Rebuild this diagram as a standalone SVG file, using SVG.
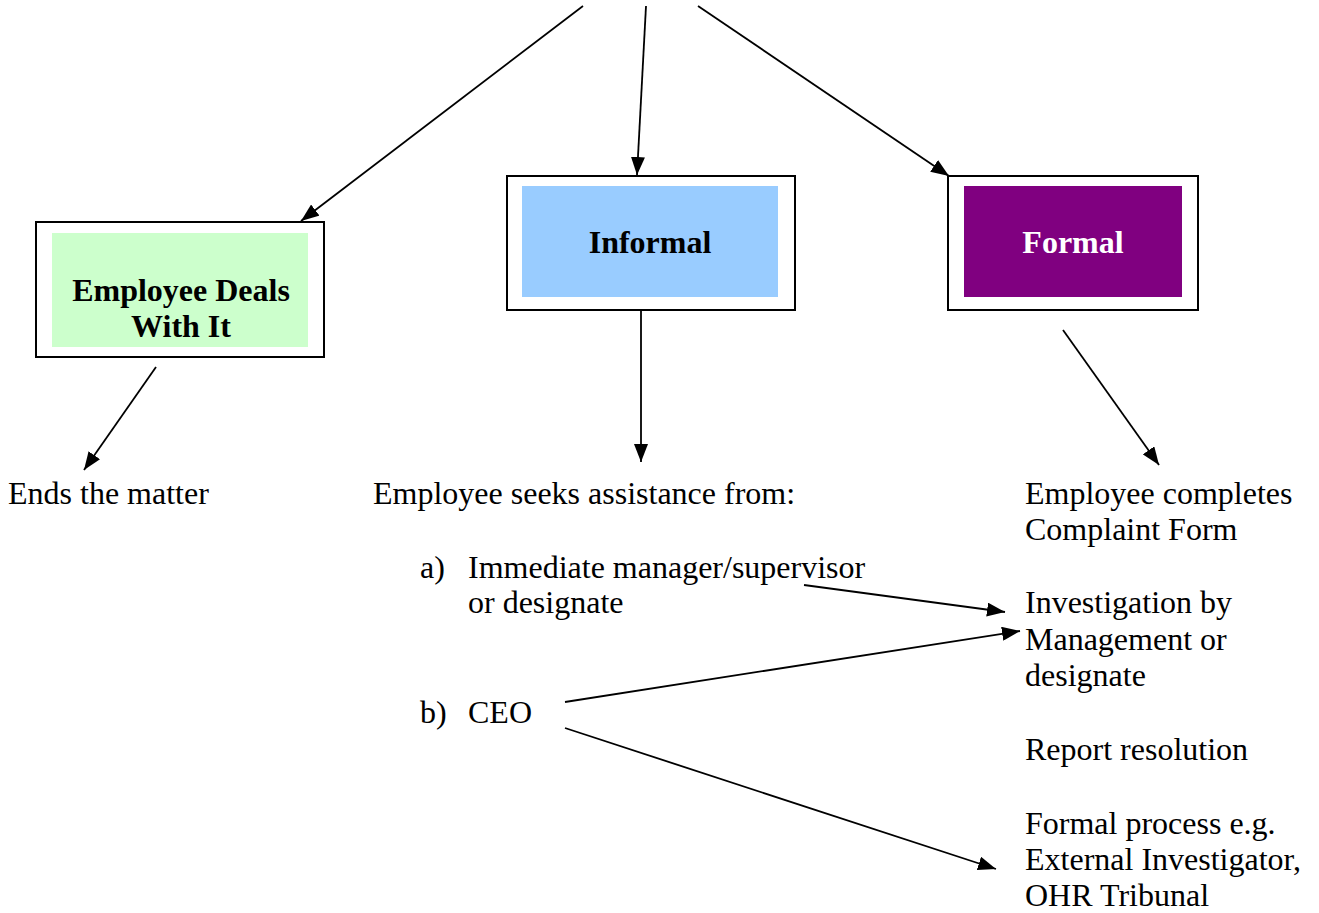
<svg xmlns="http://www.w3.org/2000/svg" width="1319" height="913" viewBox="0 0 1319 913">
  <style>
    .frame { fill: #ffffff; stroke: #000000; stroke-width: 2; }
    .title { font-family: "Liberation Serif", "Times New Roman", serif; font-weight: bold; font-size: 32px; text-anchor: middle; }
    .body { font-family: "Liberation Serif", "Times New Roman", serif; font-size: 32px; fill: #000000; }
    .link { stroke: #000000; stroke-width: 1.8; fill: none; marker-end: url(#head); }
  </style>
  <defs>
    <marker id="head" markerUnits="userSpaceOnUse" markerWidth="18" markerHeight="14" refX="18" refY="7" orient="auto">
      <path d="M0,0 L18,7 L0,14 z" fill="#000000"/>
    </marker>
  </defs>
  <rect width="1319" height="913" fill="#ffffff"/>

  <!-- option boxes -->
  <g id="deals">
    <rect class="frame" x="36" y="222" width="288" height="135"/>
    <rect x="52" y="233" width="256" height="114" fill="#ccffcc"/>
    <text class="title" x="181" y="301">Employee Deals</text>
    <text class="title" x="181" y="337">With It</text>
  </g>
  <g id="informal">
    <rect class="frame" x="507" y="176" width="288" height="134"/>
    <rect x="522" y="186" width="256" height="111" fill="#99ccff"/>
    <text class="title" x="650" y="253">Informal</text>
  </g>
  <g id="formal">
    <rect class="frame" x="948" y="176" width="250" height="134"/>
    <rect x="964" y="186" width="218" height="111" fill="#800080"/>
    <text class="title" x="1073" y="253" fill="#ffffff">Formal</text>
  </g>

  <!-- outcome texts -->
  <g id="ends">
    <text class="body" x="8" y="504">Ends the matter</text>
  </g>
  <g id="seeks">
    <text class="body" x="373" y="504">Employee seeks assistance from:</text>
  </g>
  <g id="option-a">
    <text class="body" x="420" y="578">a)</text>
    <text class="body" x="468" y="578">Immediate manager/supervisor</text>
    <text class="body" x="468" y="613">or designate</text>
  </g>
  <g id="option-b">
    <text class="body" x="420" y="723">b)</text>
    <text class="body" x="468" y="723">CEO</text>
  </g>
  <g id="complaint">
    <text class="body" x="1025" y="504">Employee completes</text>
    <text class="body" x="1025" y="540">Complaint Form</text>
  </g>
  <g id="investigation">
    <text class="body" x="1025" y="613">Investigation by</text>
    <text class="body" x="1025" y="650">Management or</text>
    <text class="body" x="1025" y="686">designate</text>
  </g>
  <g id="report">
    <text class="body" x="1025" y="760">Report resolution</text>
  </g>
  <g id="process">
    <text class="body" x="1025" y="834">Formal process e.g.</text>
    <text class="body" x="1025" y="870">External Investigator,</text>
    <text class="body" x="1025" y="906">OHR Tribunal</text>
  </g>

  <!-- connectors -->
  <g id="connectors">
    <line class="link" x1="583" y1="6" x2="301" y2="221"/>
    <line class="link" x1="646" y1="6" x2="637" y2="175"/>
    <line class="link" x1="698" y1="6" x2="949" y2="176"/>
    <line class="link" x1="156" y1="367" x2="84" y2="470"/>
    <line class="link" x1="641" y1="310" x2="641" y2="462"/>
    <line class="link" x1="1063" y1="330" x2="1159" y2="465"/>
    <line class="link" x1="804" y1="585" x2="1005" y2="612"/>
    <line class="link" x1="565" y1="702" x2="1020" y2="631"/>
    <line class="link" x1="565" y1="728" x2="996" y2="869"/>
  </g>
</svg>
